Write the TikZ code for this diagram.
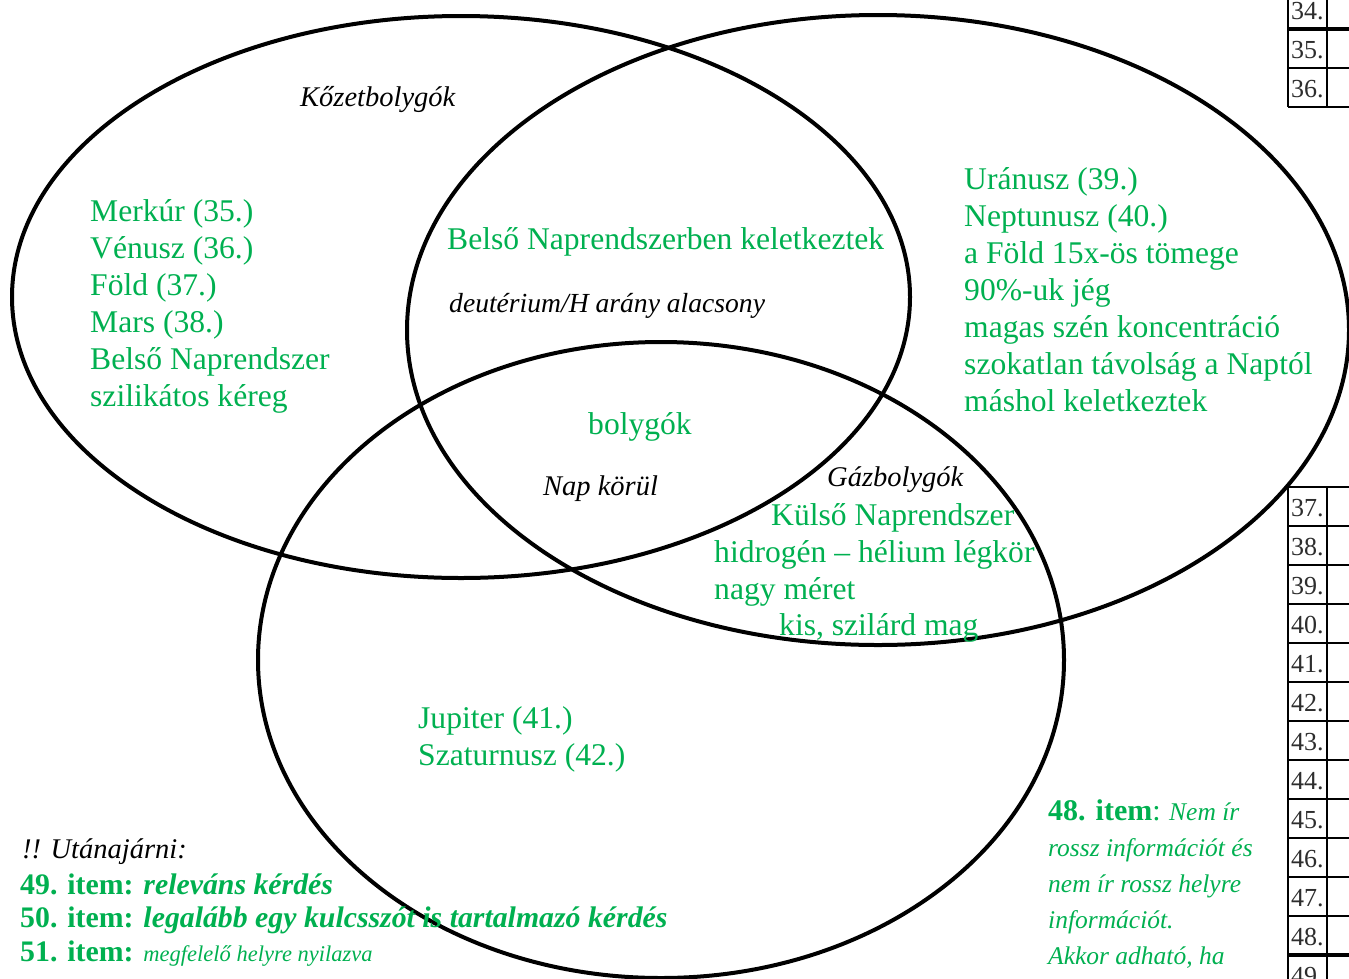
\documentclass[tikz,border=0pt]{standalone}
\usepackage{fontspec}
\setmainfont{Liberation Serif}
\usepackage{xcolor}
\definecolor{kgreen}{RGB}{0,176,80}
\definecolor{numgray}{RGB}{45,45,45}

\begin{document}
\begin{tikzpicture}[x=1pt,y=-1pt,
  venn/.style={line width=4pt},
  tabline/.style={line width=1.8pt},
  gtext/.style={text=kgreen,inner sep=0pt,align=left,font=\fontsize{31.6}{37}\selectfont},
  hand/.style={inner sep=0pt,font=\fontsize{28.5}{34}\selectfont\itshape},
  numtext/.style={inner sep=0pt,text=numgray,font=\fontsize{26}{30}\selectfont},
  itemtext/.style={text=kgreen,inner sep=0pt,font=\fontsize{29.8}{34}\selectfont},
  notetext/.style={text=kgreen,inner sep=0pt,align=left,font=\fontsize{25.5}{36}\selectfont\itshape}]
\useasboundingbox (0,0) rectangle (1349,978);
\clip (0,0) rectangle (1349,978);

% halmazok
\draw[venn] (461,297) ellipse [x radius=449pt, y radius=281pt];
\draw[venn] (878,330) ellipse [x radius=471pt, y radius=315pt];
\draw[venn] (661,660) ellipse [x radius=403pt, y radius=318pt];

% pontozo tabla fent
\draw[tabline] (1288,-5) -- (1288,107);
\draw[tabline] (1327,-5) -- (1327,107);
\draw[line width=3.5pt] (1288,29) -- (1360,29);
\draw[tabline] (1288,68) -- (1360,68);
\draw[tabline] (1288,107) -- (1360,107);
\foreach \n/\y in {34/19,35/58,36/97}
  \node[numtext,anchor=base west] (row\n) at (1291,\y) {\n.};

% pontozo tabla lent
\draw[tabline] (1288,487) -- (1288,990);
\draw[tabline] (1327,487) -- (1327,990);
\foreach \i in {0,...,11}
  \draw[tabline] (1288,487+39*\i) -- (1360,487+39*\i);
\draw[line width=3.5pt] (1288,955) -- (1360,955);
\foreach \n in {37,...,49}{
  \pgfmathsetmacro\y{516+39*(\n-37)}
  \node[numtext,anchor=base west] (row\n) at (1291,\y) {\n.};
}

% halmazok feliratai
\node[hand,anchor=base west] (kozet) at (300,106) {Kőzetbolygók};
\node[gtext,anchor=north west] (kozetlist) at (90,195)
  {\strut Merkúr (35.)\\Vénusz (36.)\\Föld (37.)\\Mars (38.)\\Belső Naprendszer\\szilikátos kéreg};
\node[gtext,anchor=base west] (belso) at (447,249) {Belső Naprendszerben keletkeztek};
\node[hand,anchor=base west,font=\fontsize{27.6}{32}\selectfont\itshape] (deut) at (449,312) {deutérium/H arány alacsony};
\node[gtext,anchor=north west] (jeglist) at (964,163)
  {\strut Uránusz (39.)\\Neptunusz (40.)\\a Föld 15x-ös tömege\\90\%-uk jég\\magas szén koncentráció\\szokatlan távolság a Naptól\\máshol keletkeztek};
\node[gtext,anchor=base west] (bolygok) at (588,434) {bolygók};
\node[hand,anchor=base west] (napkorul) at (543,495) {Nap körül};
\node[hand,anchor=base west] (gaz) at (827,486) {Gázbolygók};
\node[gtext,anchor=base west] (kulso) at (771,525) {Külső Naprendszer};
\node[gtext,anchor=north west] (gazlist) at (714,536)
  {\strut hidrogén -- hélium légkör\\nagy méret};
\node[gtext,anchor=base west] (mag) at (779,635) {kis, szilárd mag};
\node[gtext,anchor=north west] (oriaslist) at (418,702)
  {\strut Jupiter (41.)\\Szaturnusz (42.)};

% megjegyzesek
\node[hand,anchor=base west] (utana) at (22,858) {!! Utánajárni:};
\node[itemtext,anchor=base west] (item49) at (20,894)
  {\textbf{49. item:} \textbf{\textit{releváns kérdés}}};
\node[itemtext,anchor=base west] (item50) at (20,927)
  {\textbf{50. item:} \textbf{\textit{legalább egy kulcsszót is tartalmazó kérdés}}};
\node[itemtext,anchor=base west] (item51) at (20,961)
  {\textbf{51. item:} {\fontsize{22.5}{28}\selectfont\itshape megfelelő helyre nyilazva}};
\node[notetext,anchor=north west] (item48) at (1048,795)
  {\strut{\upshape\fontsize{30}{36}\selectfont\textbf{48. item}:} Nem ír\\rossz információt és\\nem ír rossz helyre\\információt.\\Akkor adható, ha};
\end{tikzpicture}
\end{document}
